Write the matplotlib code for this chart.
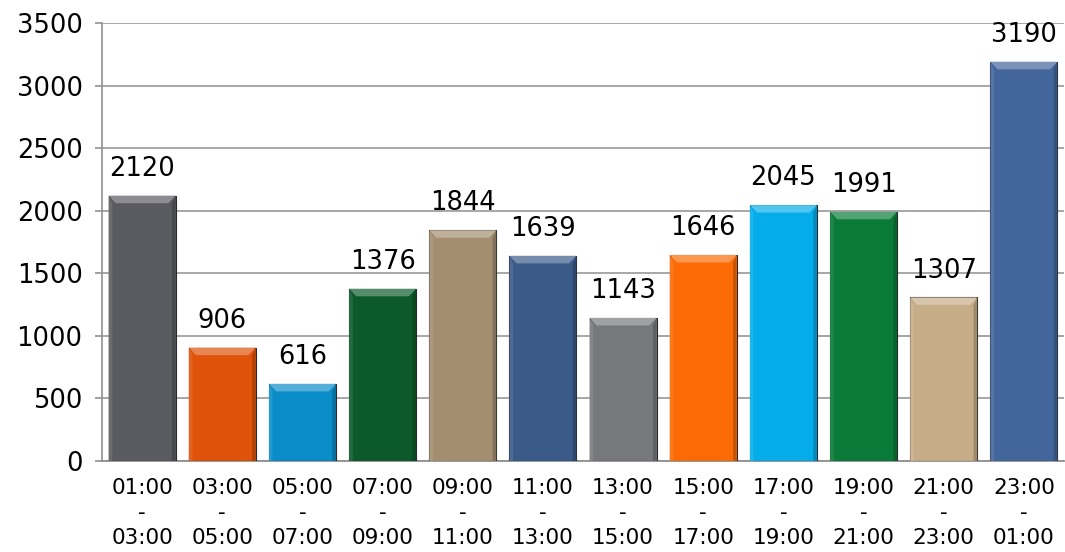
import matplotlib
matplotlib.use('Agg')
import matplotlib.pyplot as plt
import matplotlib.colors as mcolors
from matplotlib.patches import Polygon
import numpy as np

# time slots and counts
slots_from = ['01:00', '03:00', '05:00', '07:00', '09:00', '11:00',
              '13:00', '15:00', '17:00', '19:00', '21:00', '23:00']
slots_to = ['03:00', '05:00', '07:00', '09:00', '11:00', '13:00',
            '15:00', '17:00', '19:00', '21:00', '23:00', '01:00']
counts = [2120, 906, 616, 1376, 1844, 1639, 1143, 1646, 2045, 1991, 1307, 3190]
bar_colors = ['#5a5b60', '#de520a', '#0a8cc8', '#0c5a2c', '#a48e70', '#3a5a88',
              '#77787c', '#fb6a05', '#05acea', '#0a7a38', '#c6ad88', '#42659b']

plt.rcParams['font.family'] = ['DejaVu Sans']

fig = plt.figure(figsize=(10.65, 5.52), dpi=100)
ax = fig.add_axes([0.0958, 0.1649, 0.9042 - 0.001, 0.7934])

x = np.arange(len(counts))
width = 0.835
ymax = 3500

bars = ax.bar(x, counts, width=width, color=bar_colors,
              edgecolor='#2a2a2a', linewidth=0.8, zorder=3)


def shade(c, f):
    r, g, b = mcolors.to_rgb(c)
    if f > 0:
        return (r + (1 - r) * f, g + (1 - g) * f, b + (1 - b) * f)
    return (r * (1 + f), g * (1 + f), b * (1 + f))


# bevel effect on top of each bar
dx = 0.09
dy = 60
for rect, c in zip(bars, bar_colors):
    x0 = rect.get_x()
    x1 = x0 + rect.get_width()
    h = rect.get_height()
    top = Polygon([(x0, h), (x1, h), (x1 - dx, h - dy), (x0 + dx, h - dy)],
                  closed=True, facecolor=shade(c, 0.3), edgecolor='none', zorder=4)
    ax.add_patch(top)
    left = Polygon([(x0, 0), (x0, h), (x0 + dx * 0.5, h - dy), (x0 + dx * 0.5, 0)],
                   closed=True, facecolor=shade(c, 0.1), edgecolor='none', zorder=4)
    ax.add_patch(left)
    right = Polygon([(x1, 0), (x1, h), (x1 - dx * 0.5, h - dy), (x1 - dx * 0.5, 0)],
                    closed=True, facecolor=shade(c, -0.2), edgecolor='none', zorder=4)
    ax.add_patch(right)
    ax.annotate(str(int(h)), (rect.get_x() + rect.get_width() / 2, h),
                xytext=(0, 10), textcoords='offset points', ha='center', va='bottom',
                fontsize=18.5, color='black', zorder=5)

ax.set_xlim(-0.5, len(counts) - 0.5)
ax.set_ylim(0, ymax)
ax.set_yticks(np.arange(0, ymax + 1, 500))
ax.yaxis.grid(True, color='#a0a0a0', linewidth=1.3, zorder=0)
ax.set_axisbelow(True)

ax.set_xticks(x)
ax.set_xticklabels([f + '\n-\n' + t for f, t in zip(slots_from, slots_to)],
                   fontsize=15.5, linespacing=1.32)
ax.tick_params(axis='x', length=0, pad=12)
ax.tick_params(axis='y', labelsize=18.5, length=5, width=1.2, color='#909090', pad=9)

for s in ['top', 'right']:
    ax.spines[s].set_visible(False)
ax.spines['left'].set_color('#909090')
ax.spines['left'].set_linewidth(1.2)
ax.spines['bottom'].set_color('#909090')
ax.spines['bottom'].set_linewidth(1.3)

fig.savefig('out.png', dpi=100)
